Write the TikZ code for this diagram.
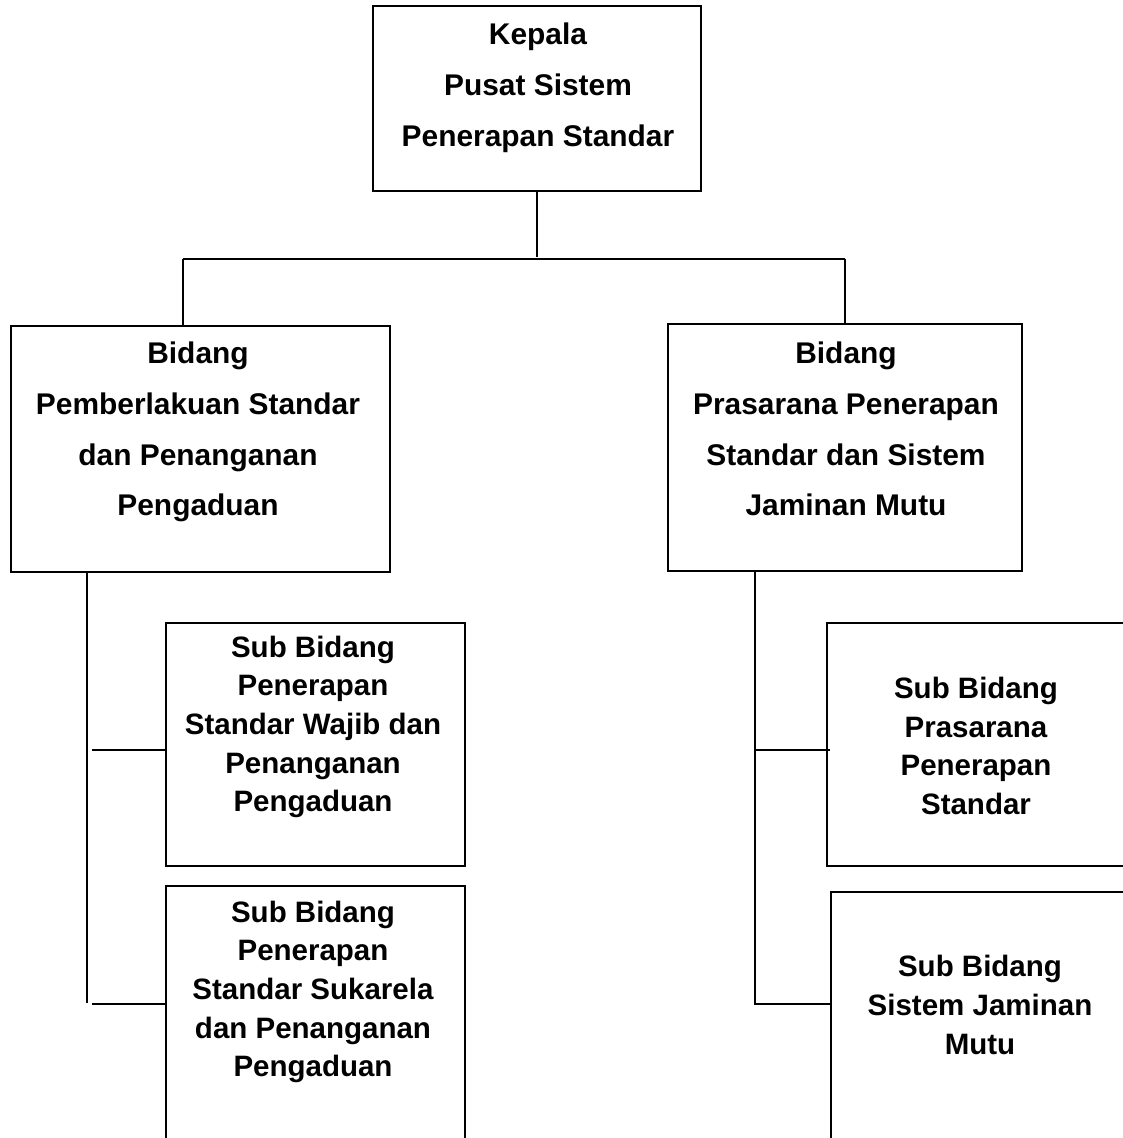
\documentclass[tikz,border=0pt]{standalone}
\usepackage{fontspec}
\setmainfont{Liberation Sans}
\usetikzlibrary{positioning}

\begin{document}
\begin{tikzpicture}[
    x=1pt, y=-1pt,
    box/.style={rectangle, draw=black, line width=1.6pt, anchor=north west, inner sep=0pt},
    bigtext/.style={align=center, font=\fontsize{29.9}{50.8}\selectfont\bfseries},
    subtext/.style={align=center, font=\fontsize{29.5}{38.6}\selectfont\bfseries},
    link/.style={draw=black, line width=1.6pt}
]
    \clip (0,0) rectangle (1123,1138);

    % Kepala
    \node[box, minimum width=328pt, minimum height=185pt] (kepala) at (372,5) {};
    \node[bigtext] (kepala-txt) at (538,88) {Kepala\\Pusat Sistem\\Penerapan Standar};

    % Bidang (left and right)
    \node[box, minimum width=379pt, minimum height=246pt] (pemb) at (10,325) {};
    \node[bigtext] (pemb-txt) at (198,432) {Bidang\\Pemberlakuan Standar\\dan Penanganan\\Pengaduan};
    \node[box, minimum width=354pt, minimum height=247pt] (pras) at (667,323) {};
    \node[bigtext] (pras-txt) at (846,429) {Bidang\\Prasarana Penerapan\\Standar dan Sistem\\Jaminan Mutu};

    % Sub bidang (left)
    \node[box, minimum width=299pt, minimum height=243pt] (wajib) at (165,622) {};
    \node[subtext] (wajib-txt) at (313,727) {Sub Bidang\\Penerapan\\Standar Wajib dan\\Penanganan\\Pengaduan};
    \node[box, minimum width=299pt, minimum height=300pt] (sukarela) at (165,885) {};
    \node[subtext] (sukarela-txt) at (313,992) {Sub Bidang\\Penerapan\\Standar Sukarela\\dan Penanganan\\Pengaduan};

    % Sub bidang (right)
    \node[box, minimum width=330pt, minimum height=243pt] (prasub) at (826,622) {};
    \node[subtext] (prasub-txt) at (976,746) {Sub Bidang\\Prasarana\\Penerapan\\Standar};
    \node[box, minimum width=330pt, minimum height=300pt] (jamu) at (830,891) {};
    \node[subtext] (jamu-txt) at (980,1005) {Sub Bidang\\Sistem Jaminan\\Mutu};

    % Top links
    \coordinate (busL) at (183,259);
    \coordinate (busR) at (845,259);
    \draw[link] (kepala.south) -- ++(0,65);
    \draw[link] (busL) -- (busR);
    \draw[link] (busL) -- (busL |- pemb.north);
    \draw[link] (busR) -- (busR |- pras.north);

    % Left trunk
    \coordinate (trunkL) at (87,1003);
    \coordinate (tapA) at (92,750);
    \coordinate (tapB) at (92,1004);
    \draw[link] (trunkL |- pemb.south) -- (trunkL);
    \draw[link] (tapA) -- (tapA -| wajib.west);
    \draw[link] (tapB) -- (tapB -| sukarela.west);

    % Right trunk
    \coordinate (trunkR) at (755,1004);
    \coordinate (tapC) at (830,750);
    \draw[link] (trunkR |- pras.south) -- (trunkR) -- (trunkR -| jamu.west);
    \draw[link] (tapC -| trunkR) -- (tapC);
\end{tikzpicture}
\end{document}
